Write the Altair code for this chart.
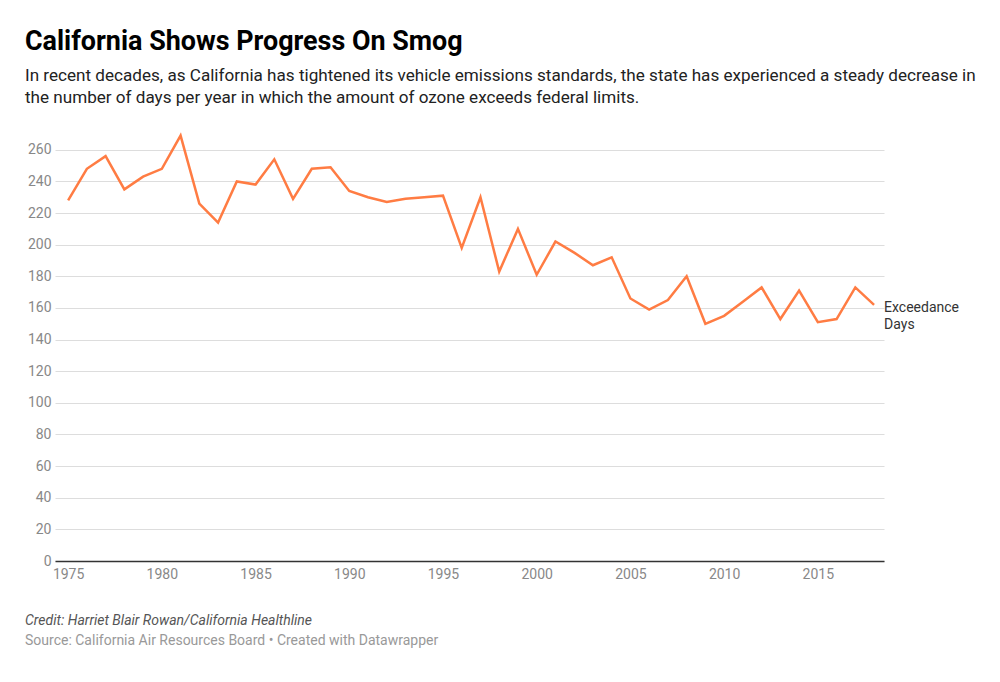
import altair as alt
import pandas as pd

years = list(range(1975, 2019))
days = [228, 248, 256, 235, 243, 248, 269, 226, 214, 240,
        238, 254, 229, 248, 249, 234, 230, 227, 229, 230,
        231, 198, 230, 183, 210, 181, 202, 195, 187, 192,
        166, 159, 165, 180, 150, 155, 164, 173, 153, 171,
        151, 153, 173, 162]

x_ticks = [1975, 1980, 1985, 1990, 1995, 2000, 2005, 2010, 2015]
y_ticks = [0, 20, 40, 60, 80, 100, 120, 140, 160, 180, 200, 220, 240, 260]

title_text = "California Shows Progress On Smog"
subtitle_lines = [
    "In recent decades, as California has tightened its vehicle emissions standards, the state has experienced a steady decrease in",
    "the number of days per year in which the amount of ozone exceeds federal limits.",
]
credit_text = "Credit: Harriet Blair Rowan/California Healthline"
source_text = "Source: California Air Resources Board \u2022 Created with Datawrapper"
series_label = "Exceedance\nDays"

df = pd.DataFrame({"year": years, "days": days})

FONT = "Roboto"
W, H = 829, 427

x = alt.X("year:Q",
          scale=alt.Scale(domain=[1974.3, 2018.53], nice=False, zero=False),
          axis=alt.Axis(values=x_ticks,
                        format="d", title=None, grid=False, ticks=False,
                        domain=True, domainColor="#333333", domainWidth=1.5,
                        labelFont=FONT, labelFontSize=14, labelColor="#888888",
                        labelPadding=6, labelOverlap=False))
y = alt.Y("days:Q",
          scale=alt.Scale(domain=[0, 270], nice=False),
          axis=alt.Axis(values=y_ticks, title=None, grid=True,
                        gridColor="#dddddd", gridWidth=1, ticks=False, domain=False,
                        labelFont=FONT, labelFontSize=14, labelColor="#888888",
                        labelPadding=4, labelOverlap=False))

line = alt.Chart(df).mark_line(color="#ff7c43", strokeWidth=2.5).encode(x=x, y=y)

end_label = alt.Chart(df.tail(1).assign(label=series_label)).mark_text(
    align="left", baseline="middle", dx=10, dy=3, font=FONT, fontSize=14,
    color="#333333", lineBreak="\n", lineHeight=17
).encode(x=x, y=y, text="label:N")


def txt(s, px, py, size, color, weight="normal", style="normal"):
    return alt.Chart(pd.DataFrame({"t": [s]})).mark_text(
        align="left", baseline="alphabetic", font=FONT, fontSize=size,
        color=color, fontWeight=weight, fontStyle=style
    ).encode(text="t:N", x=alt.value(px), y=alt.value(py))


texts = [
    txt(title_text, -30, -84, 26.9, "#000000", weight="bold"),
    txt(subtitle_lines[0], -30, -53, 17.1, "#222222"),
    txt(subtitle_lines[1], -30, -31, 17.1, "#222222"),
    txt(credit_text, -30, 491, 14, "#555555", style="italic"),
    txt(source_text, -30, 511, 14, "#999999"),
]

chart = alt.layer(line, end_label, *texts).properties(
    width=W, height=H,
    autosize=alt.AutoSizeParams(type="none"),
    padding={"left": 47, "top": 126, "right": 108, "bottom": 100},
    background="white",
).configure_view(stroke=None)

chart.save("out.html", embed_options={"renderer": "svg", "actions": False})
